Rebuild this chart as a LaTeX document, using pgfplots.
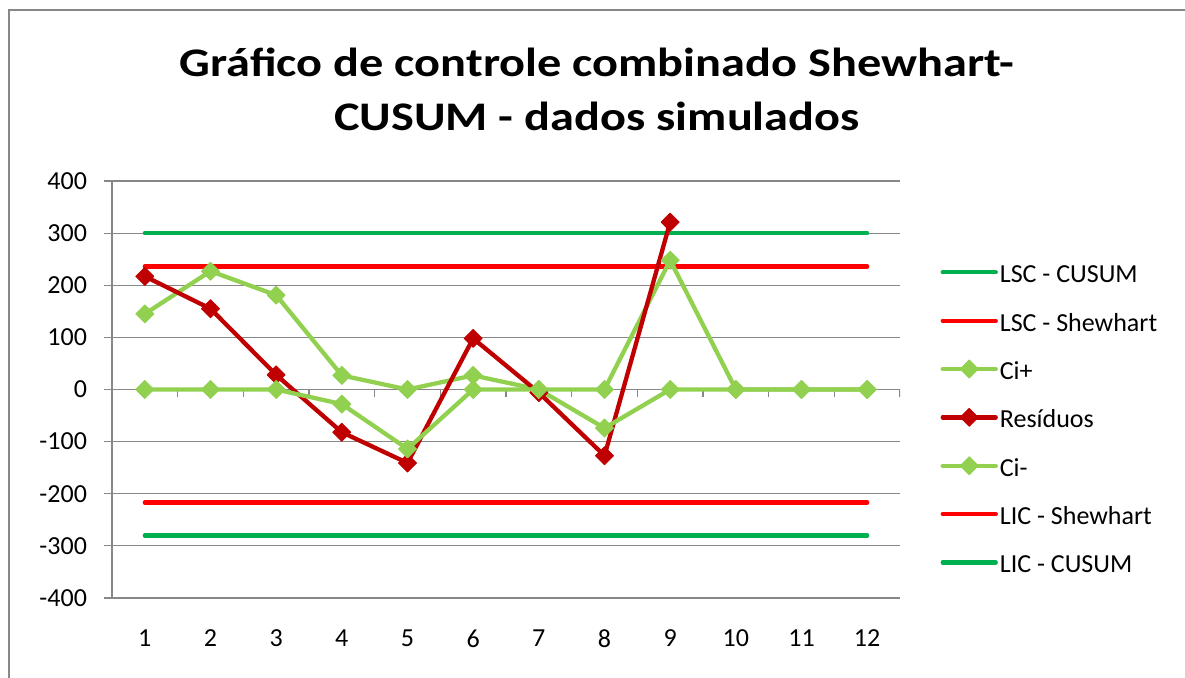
\documentclass[border=0pt]{standalone}
\usepackage{pgfplots}
\pgfplotsset{compat=1.18}
\usepackage{fontspec}
\setmainfont{Carlito}
\newfontfamily\titlefont{Carlito}[FakeStretch=1.19]
\definecolor{cgreen}{HTML}{00B050}
\definecolor{cred}{HTML}{FF0000}
\definecolor{clgreen}{HTML}{92D050}
\definecolor{cdred}{HTML}{C00000}
\definecolor{cgrid}{HTML}{878787}
\begin{document}
\begin{tikzpicture}
\useasboundingbox (0,0) rectangle (592.5pt,339pt);
\draw[cgrid, line width=1pt] (4.5pt,-2pt) -- (4.5pt,334pt) -- (595pt,334pt);
\node[font=\titlefont\bfseries\fontsize{20.3}{26.5}\selectfont, anchor=base, inner sep=0pt] at (298.5pt,300.5pt) {Gráfico de controle combinado Shewhart-};
\node[font=\titlefont\bfseries\fontsize{20.3}{26.5}\selectfont, anchor=base, inner sep=0pt] at (298.5pt,273.5pt) {CUSUM - dados simulados};
\begin{axis}[
  at={(56pt,40pt)}, anchor=south west,
  scale only axis, width=394pt, height=208.5pt,
  xmin=0.5, xmax=12.5, ymin=-400, ymax=400,
  axis y line*=left, axis x line*=bottom,
  x axis line style={draw=none},
  xtick={1,...,12}, major x tick style={draw=none},
  ytick={-400,-300,...,400},
  ymajorgrids, grid style={cgrid, line width=0.6pt},
  y axis line style={cgrid, line width=0.8pt},
  major y tick style={cgrid, line width=0.6pt},
  tick align=outside, major tick length=4pt,
  tick label style={font=\fontsize{13}{15}\selectfont},
  /pgf/number format/assume math mode=true,
  xticklabel style={yshift=-8.5pt},
  yticklabel style={xshift=-5pt},
  legend cell align=left,
  legend style={at={(1.051,0.425)}, anchor=west, draw=none, fill=none, inner sep=0pt,
    row sep=8.17pt, font=\fontsize{13}{15}\selectfont,
    nodes={text height=9.5pt, text depth=2.5pt, inner sep=2pt},
    /tikz/every odd column/.append style={column sep=-1pt}},
  legend image code/.code={\draw[mark repeat=2,mark phase=2,#1] plot coordinates {(0pt,1.7pt) (13.25pt,1.7pt) (26.5pt,1.7pt)};},
  every axis plot/.append style={line width=2.15pt, line cap=round, line join=round},
]
\draw[cgrid, line width=0.8pt] (axis cs:0.5,0) -- (axis cs:12.5,0);
\pgfplotsinvokeforeach{0.5,1.5,...,12.5}{\draw[cgrid, line width=0.6pt] (axis cs:#1,0) -- ++(0pt,-4pt);}
\addplot[cgreen, no markers] coordinates {(1,300)(2,300)(3,300)(4,300)(5,300)(6,300)(7,300)(8,300)(9,300)(10,300)(11,300)(12,300)};
\addlegendentry{LSC - CUSUM}
\addplot[cred, no markers] coordinates {(1,236)(2,236)(3,236)(4,236)(5,236)(6,236)(7,236)(8,236)(9,236)(10,236)(11,236)(12,236)};
\addlegendentry{LSC - Shewhart}
\addplot[clgreen, mark=square*, mark size=3.2pt, mark options={rotate=45, line width=0.4pt, fill=clgreen}] coordinates {(1,145)(2,227)(3,181)(4,27)(5,0)(6,27)(7,0)(8,0)(9,248)(10,0)(11,0)(12,0)};
\addlegendentry{Ci+}
\addplot[cdred, mark=square*, mark size=3.2pt, mark options={rotate=45, line width=0.4pt, fill=cdred}] coordinates {(1,217)(2,155)(3,28)(4,-82)(5,-141)(6,98)(7,-6)(8,-127)(9,321)};
\addlegendentry{Resíduos}
\addplot[clgreen, mark=square*, mark size=3.2pt, mark options={rotate=45, line width=0.4pt, fill=clgreen}] coordinates {(1,0)(2,0)(3,0)(4,-28)(5,-114)(6,0)(7,0)(8,-74)(9,0)(10,0)(11,0)(12,0)};
\addlegendentry{Ci-}
\addplot[cred, no markers] coordinates {(1,-217)(2,-217)(3,-217)(4,-217)(5,-217)(6,-217)(7,-217)(8,-217)(9,-217)(10,-217)(11,-217)(12,-217)};
\addlegendentry{LIC - Shewhart}
\addplot[cgreen, no markers] coordinates {(1,-280)(2,-280)(3,-280)(4,-280)(5,-280)(6,-280)(7,-280)(8,-280)(9,-280)(10,-280)(11,-280)(12,-280)};
\addlegendentry{LIC - CUSUM}
\end{axis}
\end{tikzpicture}
\end{document}
